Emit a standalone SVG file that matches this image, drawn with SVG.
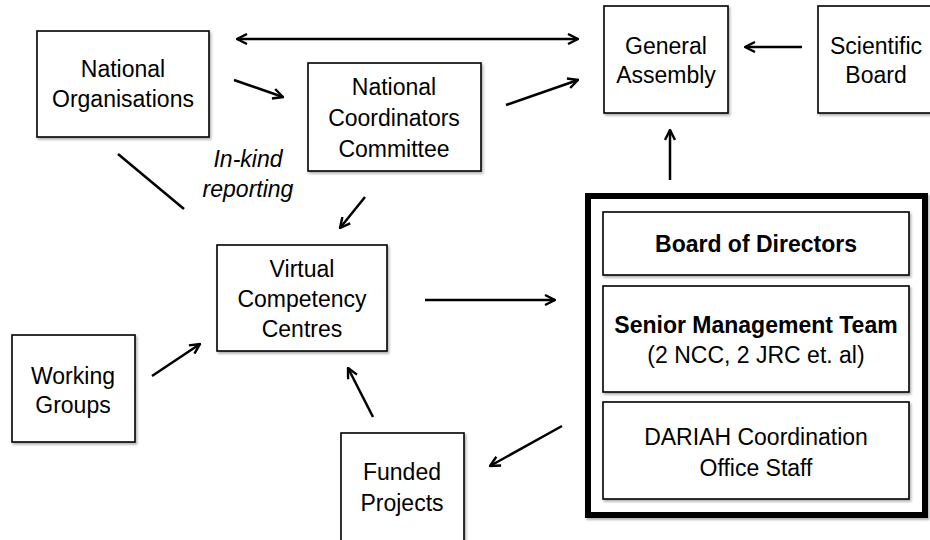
<svg xmlns="http://www.w3.org/2000/svg" width="930" height="540" viewBox="0 0 930 540">
<style>
.box{fill:#fff;stroke:#000;stroke-width:1.6}
.t{font-family:"Liberation Sans",Arial,sans-serif;font-size:23px;text-anchor:middle;fill:#000}
.b{font-weight:bold}
.i{font-style:italic;font-size:23px}
.c{stroke:#000;stroke-width:2.5;fill:none}
</style>
<defs>
<marker id="ah" viewBox="0 0 12 12" refX="11" refY="6" markerWidth="12" markerHeight="12" markerUnits="userSpaceOnUse" orient="auto-start-reverse">
<path d="M1,1 L11,6 L1,11" fill="none" stroke="#000" stroke-width="2.4"/>
</marker>
<filter id="sh" x="-10%" y="-10%" width="130%" height="130%">
<feDropShadow dx="1.5" dy="2" stdDeviation="1.2" flood-color="#000" flood-opacity="0.3"/>
</filter>
</defs>
<rect width="930" height="540" fill="#fff"/>

<g id="connectors">
<line class="c" x1="237" y1="39" x2="578" y2="39" marker-start="url(#ah)" marker-end="url(#ah)"/>
<line class="c" x1="234" y1="80" x2="283" y2="97" marker-end="url(#ah)"/>
<line class="c" x1="506" y1="105" x2="578" y2="80" marker-end="url(#ah)"/>
<line class="c" x1="802" y1="47" x2="745" y2="47" marker-end="url(#ah)"/>
<line class="c" x1="670" y1="180" x2="670" y2="130" marker-end="url(#ah)"/>
<line class="c" x1="118" y1="154" x2="184" y2="209"/>
<line class="c" x1="365" y1="197" x2="340" y2="228" marker-end="url(#ah)"/>
<line class="c" x1="425" y1="300" x2="555" y2="300" marker-end="url(#ah)"/>
<line class="c" x1="152" y1="376" x2="200" y2="344" marker-end="url(#ah)"/>
<line class="c" x1="373" y1="417" x2="348" y2="368" marker-end="url(#ah)"/>
<line class="c" x1="562" y1="426" x2="490" y2="466" marker-end="url(#ah)"/>
</g>

<text class="t i" x="248" y="167">In-kind</text>
<text class="t i" x="248" y="197">reporting</text>

<g id="national-organisations">
<rect class="box" filter="url(#sh)" x="37" y="31" width="172" height="106"/>
<text class="t" x="123" y="77">National</text>
<text class="t" x="123" y="107">Organisations</text>
</g>

<g id="ncc">
<rect class="box" filter="url(#sh)" x="308" y="63" width="173" height="108"/>
<text class="t" x="394" y="95">National</text>
<text class="t" x="394" y="126">Coordinators</text>
<text class="t" x="394" y="157">Committee</text>
</g>

<g id="general-assembly">
<rect class="box" filter="url(#sh)" x="604" y="6" width="124" height="107"/>
<text class="t" x="666" y="54">General</text>
<text class="t" x="666" y="83">Assembly</text>
</g>

<g id="scientific-board">
<rect class="box" filter="url(#sh)" x="818" y="6" width="120" height="107"/>
<text class="t" x="876" y="54">Scientific</text>
<text class="t" x="876" y="83">Board</text>
</g>

<g id="vcc">
<rect class="box" filter="url(#sh)" x="217" y="245" width="170" height="106"/>
<text class="t" x="302" y="277">Virtual</text>
<text class="t" x="302" y="307">Competency</text>
<text class="t" x="302" y="337">Centres</text>
</g>

<g id="working-groups">
<rect class="box" filter="url(#sh)" x="12" y="335" width="123" height="107"/>
<text class="t" x="73" y="384">Working</text>
<text class="t" x="73" y="413">Groups</text>
</g>

<g id="funded-projects">
<rect class="box" filter="url(#sh)" x="341" y="433" width="123" height="120"/>
<text class="t" x="402" y="480">Funded</text>
<text class="t" x="402" y="511">Projects</text>
</g>

<g id="management">
<rect x="588" y="196" width="337" height="319" fill="#fff" stroke="#000" stroke-width="6" filter="url(#sh)"/>
<g id="board-of-directors">
<rect class="box" filter="url(#sh)" x="603" y="212" width="306" height="63"/>
<text class="t b" x="756" y="252">Board of Directors</text>
</g>
<g id="senior-management-team">
<rect class="box" filter="url(#sh)" x="603" y="286" width="306" height="106"/>
<text class="t b" x="756" y="333">Senior Management Team</text>
<text class="t" x="756" y="363">(2 NCC, 2 JRC et. al)</text>
</g>
<g id="coordination-office">
<rect class="box" filter="url(#sh)" x="603" y="402" width="306" height="97"/>
<text class="t" x="756" y="445">DARIAH Coordination</text>
<text class="t" x="756" y="476">Office Staff</text>
</g>
</g>
</svg>
